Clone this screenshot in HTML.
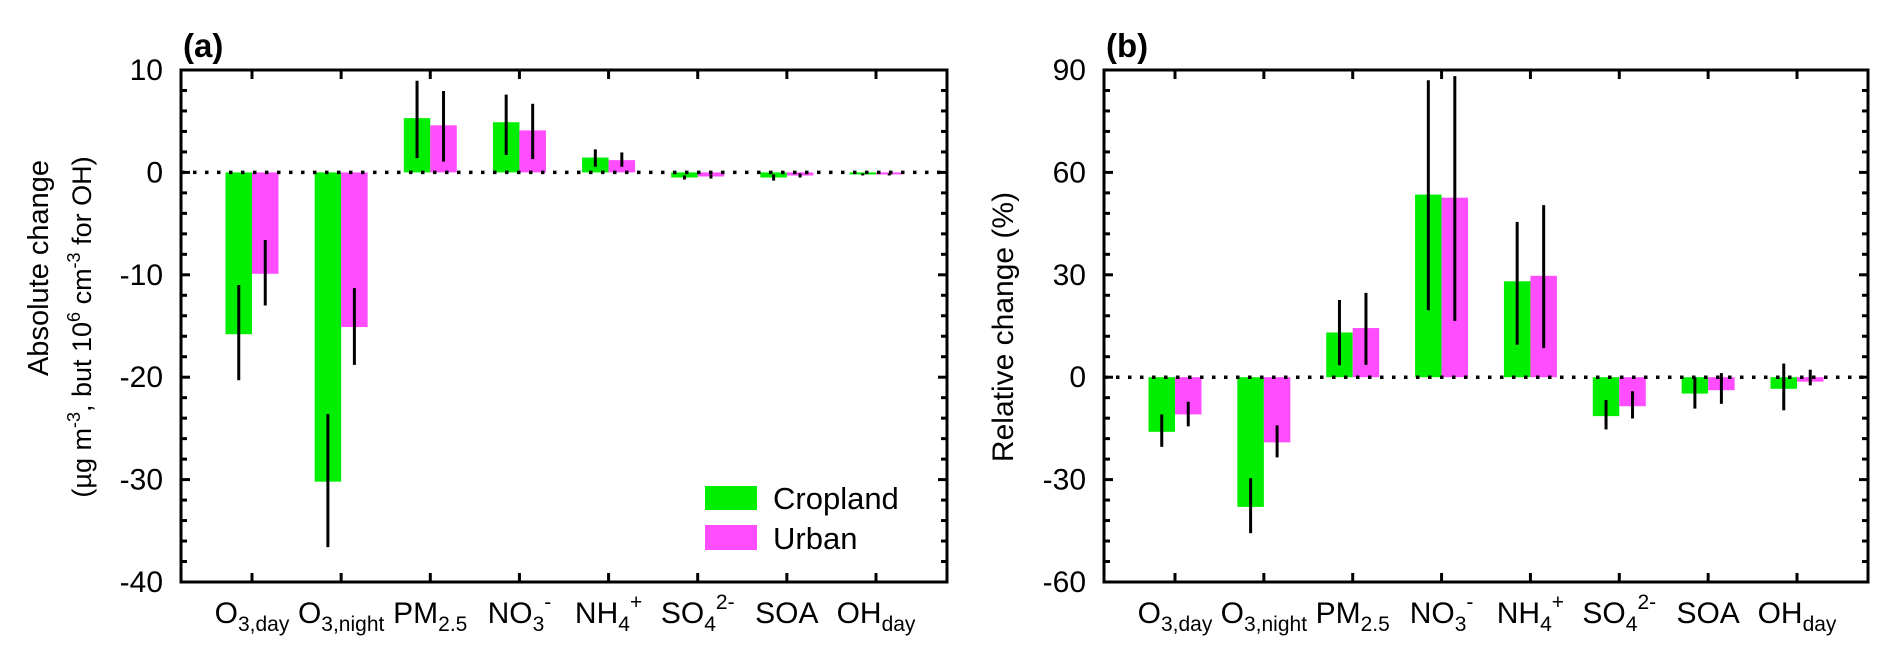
<!DOCTYPE html>
<html><head><meta charset="utf-8"><style>
html,body{margin:0;padding:0;background:#fff;}
svg{display:block;font-family:"Liberation Sans",sans-serif;}
</style></head><body>
<svg id="fig" width="1892" height="657" viewBox="0 0 1892 657" xmlns="http://www.w3.org/2000/svg"></svg>
<script>
const categories = ["O3,day","O3,night","PM2.5","NO3-","NH4+","SO42-","SOA","OHday"];
const absCrop = [-15.8,-30.2,5.3,4.9,1.45,-0.5,-0.5,-0.2];
const absCropLo = [-20.3,-36.6,1.4,1.7,0.55,-0.7,-0.8,-0.3];
const absCropHi = [-11.0,-23.6,8.95,7.6,2.25,-0.3,-0.2,-0.1];
const absUrb = [-9.9,-15.1,4.6,4.1,1.2,-0.4,-0.3,-0.2];
const absUrbLo = [-13.0,-18.8,1.05,1.3,0.55,-0.6,-0.5,-0.3];
const absUrbHi = [-6.6,-11.3,7.95,6.7,1.95,-0.2,-0.1,-0.1];
const relCrop = [-16.0,-38.0,13.1,53.5,28.1,-11.4,-4.8,-3.4];
const relCropLo = [-20.4,-45.7,3.5,19.6,9.5,-15.3,-9.2,-9.7];
const relCropHi = [-10.9,-29.6,22.6,87.0,45.5,-6.7,0.0,4.0];
const relUrb = [-10.9,-19.1,14.4,52.6,29.7,-8.5,-3.8,-1.3];
const relUrbLo = [-14.4,-23.5,3.6,16.5,8.5,-12.1,-7.8,-2.4];
const relUrbHi = [-7.2,-14.1,24.7,88.2,50.4,-4.1,1.2,2.2];
const absTicks = [10,0,-10,-20,-30,-40];
const relTicks = [90,60,30,0,-30,-60];

const NS="http://www.w3.org/2000/svg";
const svg=document.getElementById('fig');
function mk(tag,attrs,parent){const e=document.createElementNS(NS,tag);for(const k in attrs)e.setAttribute(k,attrs[k]);(parent||svg).appendChild(e);return e;}
const labelParts=[
 [["O",0],["3,day",1]],[["O",0],["3,night",1]],[["PM",0],["2.5",1]],[["NO",0],["3",1],["-",2]],
 [["NH",0],["4",1],["+",2]],[["SO",0],["4",1],["2-",2]],[["SOA",0]],[["OH",0],["day",1]]];

function panel(o){
  const g=mk('g',{});
  
  
  const L=o.left,R=o.right,T=70,B=582;
  const y=v=>T+(o.max-v)/(o.max-o.min)*(B-T);
  const x=i=>L+71+i*(R-L-142)/7;
  const bw=26.5;
  for(let i=0;i<categories.length;i++){
    const series=[[o.c,o.cLo,o.cHi,'#00ee00',-1,'cropland'],[o.u,o.uLo,o.uHi,'#ff4dff',0,'urban']];
    for(const s of series){
      const v=s[0][i];const bx=x(i)+s[4]*bw;
      const r=mk('rect',{x:bx,y:Math.min(y(v),y(0)),width:bw,height:Math.abs(y(v)-y(0)),fill:s[3]},g);
      
      
      const ln=mk('line',{x1:bx+bw/2,x2:bx+bw/2,y1:y(s[1][i]),y2:y(s[2][i]),stroke:'#000','stroke-width':3},g);
      
      
    }
  }
  const z=mk('line',{x1:L,x2:R,y1:y(0),y2:y(0),stroke:'#000','stroke-width':3.5,'stroke-dasharray':'3.5 8.5'},g);
  
  
  const f=mk('rect',{x:L,y:T,width:R-L,height:B-T,fill:'none',stroke:'#000','stroke-width':3},g);
  
  
  const step=(o.ticks[0]-o.ticks[1])/5;
  for(let v=o.min;v<=o.max+1e-9;v+=step){
    const major=Math.abs(Math.round(v/(step*5))*(step*5)-v)<1e-6;
    const len=major?9:6;
    mk('line',{x1:L,x2:L+len,y1:y(v),y2:y(v),stroke:'#000','stroke-width':3},g);
    mk('line',{x1:R,x2:R-len,y1:y(v),y2:y(v),stroke:'#000','stroke-width':3},g);
  }
  for(const t of o.ticks){
    const tx=mk('text',{x:L-18,y:y(t)+10,'font-size':30,'text-anchor':'end'},g);
    tx.textContent=t;
    
    
  }
  for(let i=0;i<categories.length;i++){
    mk('line',{x1:x(i),x2:x(i),y1:B,y2:B-9,stroke:'#000','stroke-width':3},g);
    mk('line',{x1:x(i),x2:x(i),y1:T,y2:T+9,stroke:'#000','stroke-width':3},g);
    const tx=mk('text',{x:x(i),y:623,'font-size':30,'text-anchor':'middle'},g);
    
    
    for(const p of labelParts[i]){
      const ts=mk('tspan',{},tx);
      if(p[1]===1){ts.setAttribute('font-size','21');ts.setAttribute('dy','8');}
      if(p[1]===2){ts.setAttribute('font-size','21');ts.setAttribute('dy',labelParts[i].length>2?'-22':'-14');}
      ts.textContent=p[0];
    }
  }
  const pt=mk('text',{x:L+2,y:57,'font-size':33,'font-weight':'bold'},g);
  pt.textContent=o.tag;
  
  
}
panel({name:'panel-a-absolute',left:181,right:947,min:-40,max:10,ticks:absTicks,tag:'(a)',
  c:absCrop,cLo:absCropLo,cHi:absCropHi,u:absUrb,uLo:absUrbLo,uHi:absUrbHi});
panel({name:'panel-b-relative',left:1104,right:1868,min:-60,max:90,ticks:relTicks,tag:'(b)',
  c:relCrop,cLo:relCropLo,cHi:relCropHi,u:relUrb,uLo:relUrbLo,uHi:relUrbHi});

let t1=mk('text',{transform:'translate(48,268) rotate(-90)','font-size':29,'text-anchor':'middle'});
t1.textContent='Absolute change';


let t2=mk('text',{transform:'translate(91,327) rotate(-90)','font-size':27,'text-anchor':'middle'});


t2.innerHTML='(µg m<tspan font-size="18" dy="-11">-3</tspan><tspan dy="11">, but 10</tspan><tspan font-size="18" dy="-11">6</tspan><tspan dy="11"> cm</tspan><tspan font-size="18" dy="-11">-3</tspan><tspan dy="11"> for OH)</tspan>';
let t3=mk('text',{transform:'translate(1013,327) rotate(-90)','font-size':30,'text-anchor':'middle'});
t3.textContent='Relative change (%)';



const lg=mk('g',{});


const l1=mk('rect',{x:705,y:486,width:52,height:24,fill:'#00ee00'},lg);


const l2=mk('rect',{x:705,y:525,width:52,height:25,fill:'#ff4dff'},lg);


const lt1=mk('text',{x:773,y:509,'font-size':31},lg);lt1.textContent='Cropland';


const lt2=mk('text',{x:773,y:549,'font-size':31},lg);lt2.textContent='Urban';


</script>
</body></html>
